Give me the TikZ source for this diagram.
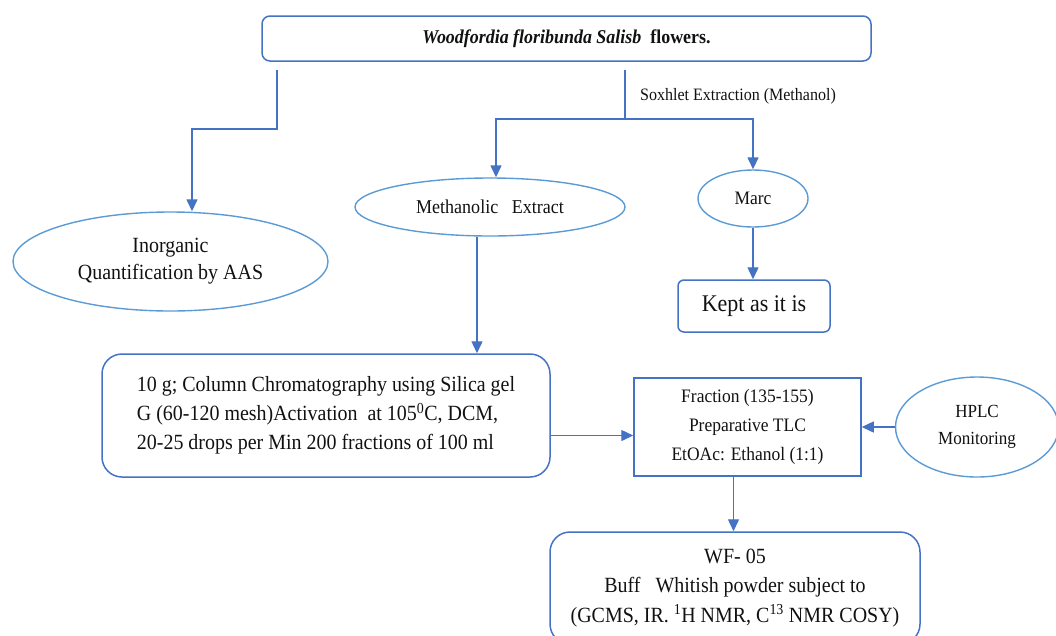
\documentclass[tikz,border=0pt]{standalone}
\usepackage{fontspec}
\setmainfont[FakeStretch=0.92]{Liberation Serif}
\usetikzlibrary{arrows.meta,shapes.geometric,calc}
\definecolor{lnblue}{HTML}{4472C4}
\definecolor{elblue}{HTML}{5B9BD5}
\definecolor{txt}{HTML}{111111}
\begin{document}
\begin{tikzpicture}[x=1pt,y=-1pt,
  ln/.style={draw=lnblue, line width=1.4pt},
  arr/.style={ln, -{Triangle[width=11pt,length=12pt]}},
  rbox/.style={draw=lnblue, line width=1.5pt, rectangle, inner sep=0pt, text=txt, align=center},
  ell/.style={draw=elblue, line width=1.4pt, ellipse, inner sep=0pt, text=txt, align=center}]
\useasboundingbox (0,0) rectangle (1056,635);
\clip (0,0) rectangle (1056,635);

\node[rbox, rounded corners=8pt, minimum width=609pt, minimum height=45pt,
  font={\fontsize{19.5}{23}\selectfont}] (top) at (566.5,38.5)
  {\textbf{\textit{Woodfordia floribunda Salisb}}\textbf{\ \ flowers.}};

\node[ell, minimum width=315pt, minimum height=99pt,
  font={\fontsize{21.7}{27}\selectfont}] (inorg) at (170.5,261.5)
  {Inorganic\\Quantification by AAS};

\node[ell, minimum width=270pt, minimum height=58pt,
  font={\fontsize{19.6}{23}\selectfont}] (meth) at (490,207)
  {Methanolic\ \ \ Extract};

\node[ell, minimum width=110pt, minimum height=57pt,
  font={\fontsize{19}{23}\selectfont}] (marc) at (753,198.5)
  {Marc};

\node[rbox, rounded corners=6pt, minimum width=152pt, minimum height=52pt,
  font={\fontsize{23.9}{28}\selectfont}] (kept) at (754,306)
  {Kept as it is};

\node[rbox, rounded corners=20pt, minimum width=448pt, minimum height=123pt, align=left,
  font={\fontsize{21.7}{29}\selectfont}] (col) at (326,415.5)
  {10 g; Column Chromatography using Silica gel\\
   G (60-120 mesh)Activation\ \ at 105\textsuperscript{0}C, DCM,\\
   20-25 drops per Min 200 fractions of 100 ml};

\node[rbox, minimum width=227pt, minimum height=98pt,
  font={\fontsize{19}{29}\selectfont}] (frac) at (747.5,427)
  {Fraction (135-155)\\Preparative TLC\\EtOAc: Ethanol (1:1)};

\node[ell, minimum width=163pt, minimum height=100pt,
  font={\fontsize{18.5}{27}\selectfont}] (hplc) at (977,427)
  {HPLC\\Monitoring};

\node[rbox, rounded corners=20pt, minimum width=370pt, minimum height=112pt,
  font={\fontsize{21.7}{29.5}\selectfont}] (wf) at (735,588)
  {WF- 05\\Buff\ \ \ Whitish powder subject to\\
   (GCMS, IR. \textsuperscript{1}H NMR, C\textsuperscript{13} NMR COSY)};

\node[anchor=west, inner sep=0pt, text=txt,
  font={\fontsize{17.4}{20}\selectfont}] (sox) at (640,96)
  {Soxhlet Extraction (Methanol)};

% connectors
\coordinate (s1) at (277,70);
\coordinate (b1) at (192,129);
\coordinate (s2) at (625,70);
\coordinate (j) at (625,119);

\draw[arr] (s1) |- (b1) -- (b1 |- inorg.north);
\draw[ln] (s2) -- (j);
\draw[arr] (j) -| ([xshift=6pt]meth.north);
\draw[arr] (j) -| (marc.north);
\draw[arr] ([xshift=-13pt]meth.south) -- ([xshift=-13pt]meth.south |- col.north);
\draw[arr] (marc.south) -- (marc.south |- kept.north);
\draw[arr] ([yshift=-20pt]col.east) -- ([yshift=-20pt]col.east -| frac.west);
\draw[arr] (hplc.west) -- (hplc.west -| frac.east);
\draw[arr] ([xshift=-14pt]frac.south) -- ([xshift=-14pt]frac.south |- wf.north);
\end{tikzpicture}
\end{document}
